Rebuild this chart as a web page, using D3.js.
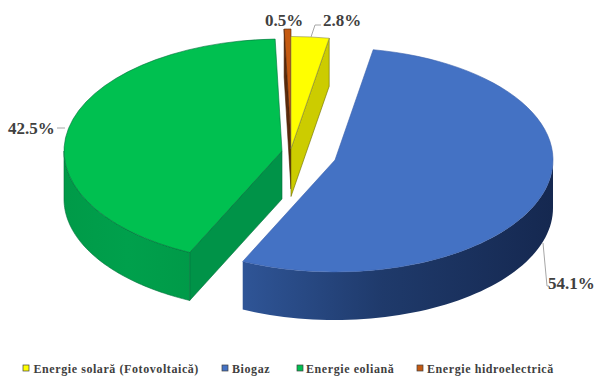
<!DOCTYPE html>
<html><head><meta charset="utf-8">
<script src="https://cdn.jsdelivr.net/npm/d3@7"></script>
<style>html,body{margin:0;background:#fff}svg{display:block}</style></head>
<body><svg id="c" width="595" height="377"></svg>
<script>
const categories = ["Energie solară (Fotovoltaică)", "Biogaz", "Energie eoliană", "Energie hidroelectrică"];
const values = [2.8, 54.1, 42.5, 0.5];
const valueLabels = ["2.8%", "54.1%", "42.5%", "0.5%"];
const topColors = ["#ffff00", "#4472c4", "#00c050", "#c55a11"];
const sideColors = ["#cccc00", "url(#gb)", "url(#gg)", "#5a2a0a"];
const edgeStroke = ["#6b6b00", "#3a62ad", "#00703a", "#4a2208"];

const W = 595, H = 377, RX = 218, RY = 112, DEPTH = 48;
const centers = [[291,148.5],[335,160],[282,151],[291,141]];
const drawOrder = [2,3,0,1];
const svg = d3.select("#c");
const defs = svg.append("defs");
function grad(id, x1, x2, stops){
  const g = defs.append("linearGradient").attr("id",id).attr("gradientUnits","userSpaceOnUse")
    .attr("x1",x1).attr("x2",x2).attr("y1",0).attr("y2",0);
  stops.forEach(s=>g.append("stop").attr("offset",s[0]).attr("stop-color",s[1]));
}
grad("gb",242,553,[[0,"#2f5597"],[0.45,"#1f3a6b"],[1,"#152850"]]);
grad("gg",63,192,[[0,"#009a48"],[0.5,"#00a04c"],[1,"#009a48"]]);

const pieArcs = d3.pie().sort(null).value(d=>d)(values);
const arcGen = d3.arc().innerRadius(0).outerRadius(RX);
const sx = d3.scaleLinear().domain([-1,1]).range([-RX,RX]);
const sy = d3.scaleLinear().domain([-1,1]).range([-RY,RY]);
const line = d3.line();
const pt = (i,a,z)=>[centers[i][0]+sx(Math.sin(a)), centers[i][1]-sy(Math.cos(a))+z];
const apex = (i,z)=>[centers[i][0],centers[i][1]+z];
const g = svg.append("g");

drawOrder.forEach(i=>{
  const p = pieArcs[i], col = sideColors[i], st = edgeStroke[i];
  const a0=p.startAngle, a1=p.endAngle;
  const face = a => {
    g.append("path").attr("d",line([apex(i,0),pt(i,a,0),pt(i,a,DEPTH),apex(i,DEPTH)])+"Z")
     .attr("fill",i===2?"#009348":col).attr("stroke",st).attr("stroke-width",0.6);
  };
  if(i===0) face(a1);
  if(i===2) face(a0);
  if(i===3) face(a0);
  const lo=Math.max(a0,Math.PI/2), hi=Math.min(a1,Math.PI*1.5);
  if(hi>lo){
    const as=d3.range(0,61).map(k=>lo+(hi-lo)*k/60);
    const pts=as.map(a=>pt(i,a,0)).concat(as.slice().reverse().map(a=>pt(i,a,DEPTH)));
    g.append("path").attr("d",line(pts)+"Z").attr("fill",col).attr("stroke",i===1?"none":st).attr("stroke-width",0.6);
  }
  g.append("path").attr("d",arcGen(p))
   .attr("transform",`translate(${centers[i][0]},${centers[i][1]}) scale(1,${RY/RX})`)
   .attr("fill",topColors[i]).attr("stroke",i===0?"#8a8a55":st).attr("stroke-width",0.6)
   .attr("vector-effect","non-scaling-stroke");
});

const labelPos = [[323,26],[548,289],[8,134],[265,26]];
const leaders = [[[311,37],[315,25],[321,25]],[[543,243],[547,286],[549,286]],[[65,128],[57,128]],null];
leaders.forEach(l=>{ if(l) svg.append("path").attr("d",line(l)).attr("fill","none").attr("stroke","#a6a6a6").attr("stroke-width",1); });
svg.selectAll("text.lab").data(valueLabels).join("text").attr("class","lab")
  .attr("x",(d,i)=>labelPos[i][0]).attr("y",(d,i)=>labelPos[i][1])
  .attr("font-family","'Liberation Serif',serif").attr("font-weight","bold").attr("font-size",17)
  .attr("fill","#404040").text(d=>d);

const legendSwatch=[23,222,297,417], legendText=[33.5,232,306,427];
categories.forEach((c,i)=>{
  svg.append("rect").attr("x",legendSwatch[i]).attr("y",365).attr("width",6).attr("height",6)
    .attr("fill",topColors[i]).attr("stroke","#404040").attr("stroke-width",0.7);
  svg.append("text").attr("x",legendText[i]).attr("y",373)
    .attr("font-family","'Liberation Serif',serif").attr("font-weight","bold").attr("font-size",12)
    .attr("letter-spacing",0.58).attr("fill","#404040").text(c);
});
</script></body></html>
